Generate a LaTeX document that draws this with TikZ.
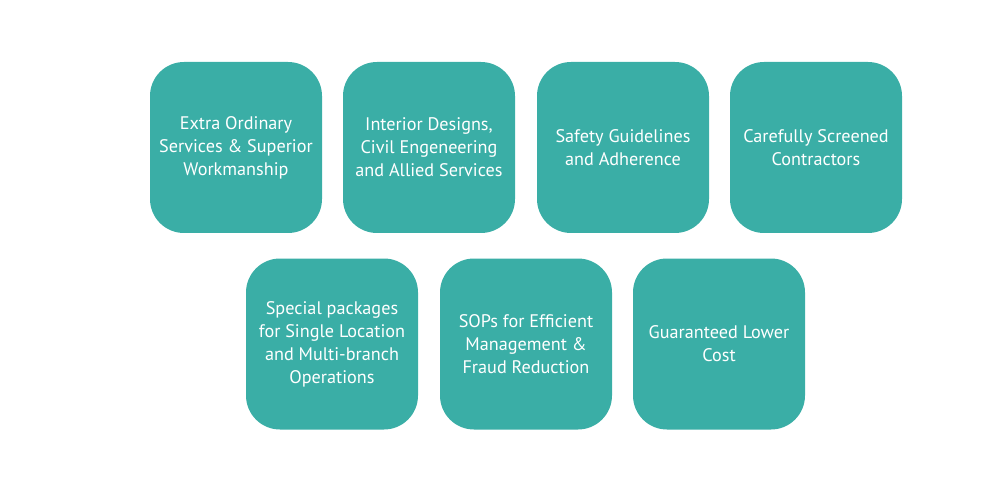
\documentclass[tikz,border=0pt]{standalone}
\usepackage{fontspec}
\setmainfont{PT Sans}
\usetikzlibrary{positioning}
\definecolor{tealbox}{RGB}{58,174,166}

\begin{document}
\begin{tikzpicture}[x=1pt,y=-1pt,
  card/.style={rectangle,rounded corners=34pt,fill=tealbox,text=white,
    minimum width=172pt,minimum height=171pt,align=center,
    font=\fontsize{18.2}{23}\selectfont,inner sep=0pt}]
\useasboundingbox (0,0) rectangle (997,492);
% top row
\node[card] (extra) at (236,147.5) {Extra Ordinary\\Services \& Superior\\Workmanship};
\node[card] (interior) at (429,147.5) {Interior Designs,\\Civil Engeneering\\and Allied Services};
\node[card] (safety) at (623,147.5) {Safety Guidelines\\and Adherence};
\node[card] (screened) at (816,147.5) {Carefully Screened\\Contractors};
% bottom row
\node[card] (packages) at (332,344) {Special packages\\for Single Location\\and Multi-branch\\Operations};
\node[card] (sops) at (526,344) {SOPs for Efficient\\Management \&\\Fraud Reduction};
\node[card] (cost) at (719,344) {Guaranteed Lower\\Cost};
\end{tikzpicture}
\end{document}
